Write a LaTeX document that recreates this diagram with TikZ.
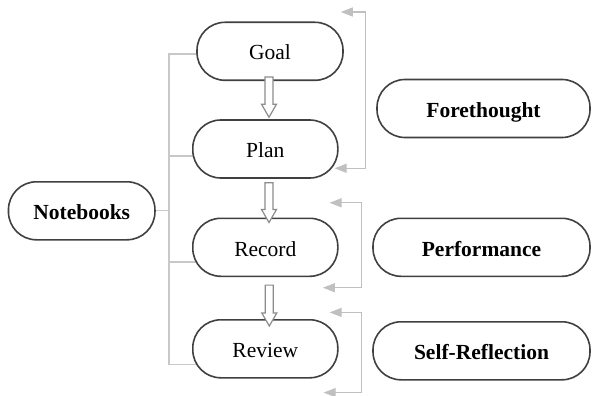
\documentclass[tikz,border=0pt]{standalone}
\usepackage{fontspec}
\setmainfont{Liberation Serif}
\usetikzlibrary{calc,backgrounds,arrows.meta}
\definecolor{boxc}{HTML}{404040}
\definecolor{treec}{HTML}{C8C8C8}
\definecolor{fbc}{HTML}{C0C0C0}
\definecolor{holc}{HTML}{8C8C8C}
\begin{document}
\begin{tikzpicture}[x=1pt,y=-1pt,
  box/.style={draw=boxc, line width=1.6pt, fill=white, rectangle, rounded corners=28pt,
    inner sep=0pt, minimum height=58pt, text height=17.4pt, text depth=0pt,
    font=\fontsize{21.5}{24}\selectfont},
  bbox/.style={box, font=\fontsize{21.5}{24}\selectfont\bfseries},
  tree/.style={draw=treec, line width=1.1pt},
  fb/.style={draw=fbc, line width=1.1pt,
    {Triangle[length=12pt,width=9pt]}-{Triangle[length=12pt,width=9pt]}},
  hollow/.style={draw=holc, line width=1.2pt, fill=white,
    to path={let \p1=(\tikztostart), \p2=(\tikztotarget) in
      (\x1-4pt,\y1) -- (\x1-4pt,\y2+13pt) -- (\x1-7.5pt,\y2+13pt) -- (\x1,\y2)
      -- (\x1+7.5pt,\y2+13pt) -- (\x1+4pt,\y2+13pt) -- (\x1+4pt,\y1) -- cycle}}
  ]
\useasboundingbox (0,0) rectangle (592,396);

\node[box, minimum width=146pt] (goal) at (270,51.3) {Goal};
\node[box, minimum width=145pt] (plan) at (265.3,149) {Plan};
\node[box, minimum width=145pt] (record) at (265.3,247.3) {Record};
\node[box, minimum width=145pt] (review) at (265.3,348.8) {Review};
\node[bbox, minimum width=146.5pt] (notebooks) at (81.7,210.8) {Notebooks};
\node[bbox, minimum width=213pt] (fore) at (483.5,108.5) {Forethought};
\node[bbox, minimum width=217pt] (perf) at (481.5,247.3) {Performance};
\node[bbox, minimum width=217pt] (self) at (481.5,350.8) {Self-Reflection};

% tree connectors
\coordinate (tx) at (169,0);
\path ($(goal.west)+(6,2.7)$) coordinate (g1)
      ($(plan.west)+(6,7)$) coordinate (p1)
      ($(record.west)+(6,14.7)$) coordinate (rc1)
      ($(review.west)+(6,16)$) coordinate (rv1);
\begin{scope}[on background layer]
  \fill[white] (0,0) rectangle (592,396);
  \draw[tree] (g1) -- (g1 -| tx) |- (rv1);
  \draw[tree] (p1) -- (p1 -| tx);
  \draw[tree] (rc1) -- (rc1 -| tx);
  \draw[tree] (notebooks.east) -- (notebooks.east -| tx);
\end{scope}

% feedback brackets
\draw[fb] ($(goal.north east)+(-3,-9.5)$) -- ++(25,0) |- ($(plan.east)+(-4,19.3)$);
\draw[fb] ($(record.north east)+(-9,-14.7)$) -- ++(31.7,0) |- ($(record.south east)+(-15.7,10.6)$);
\draw[fb] ($(review.north east)+(-9,-6.6)$) -- ++(31.7,0) |- ($(review.south east)+(-15,14)$);

% hollow arrows
\path ($(goal.south)+(-1,-4)$) coordinate (a1s)
      ($(plan.north)+(3.7,-2)$) coordinate (a1e)
      ($(plan.south)+(3.7,4)$) coordinate (a2s)
      ($(record.north)+(3.7,5)$) coordinate (a2e)
      ($(record.south)+(4,8)$) coordinate (a3s)
      ($(review.north)+(4,7)$) coordinate (a3e);
\draw[hollow] (a1s) to (a1e);
\draw[hollow] (a2s) to (a2e);
\draw[hollow] (a3s) to (a3e);
\end{tikzpicture}
\end{document}
